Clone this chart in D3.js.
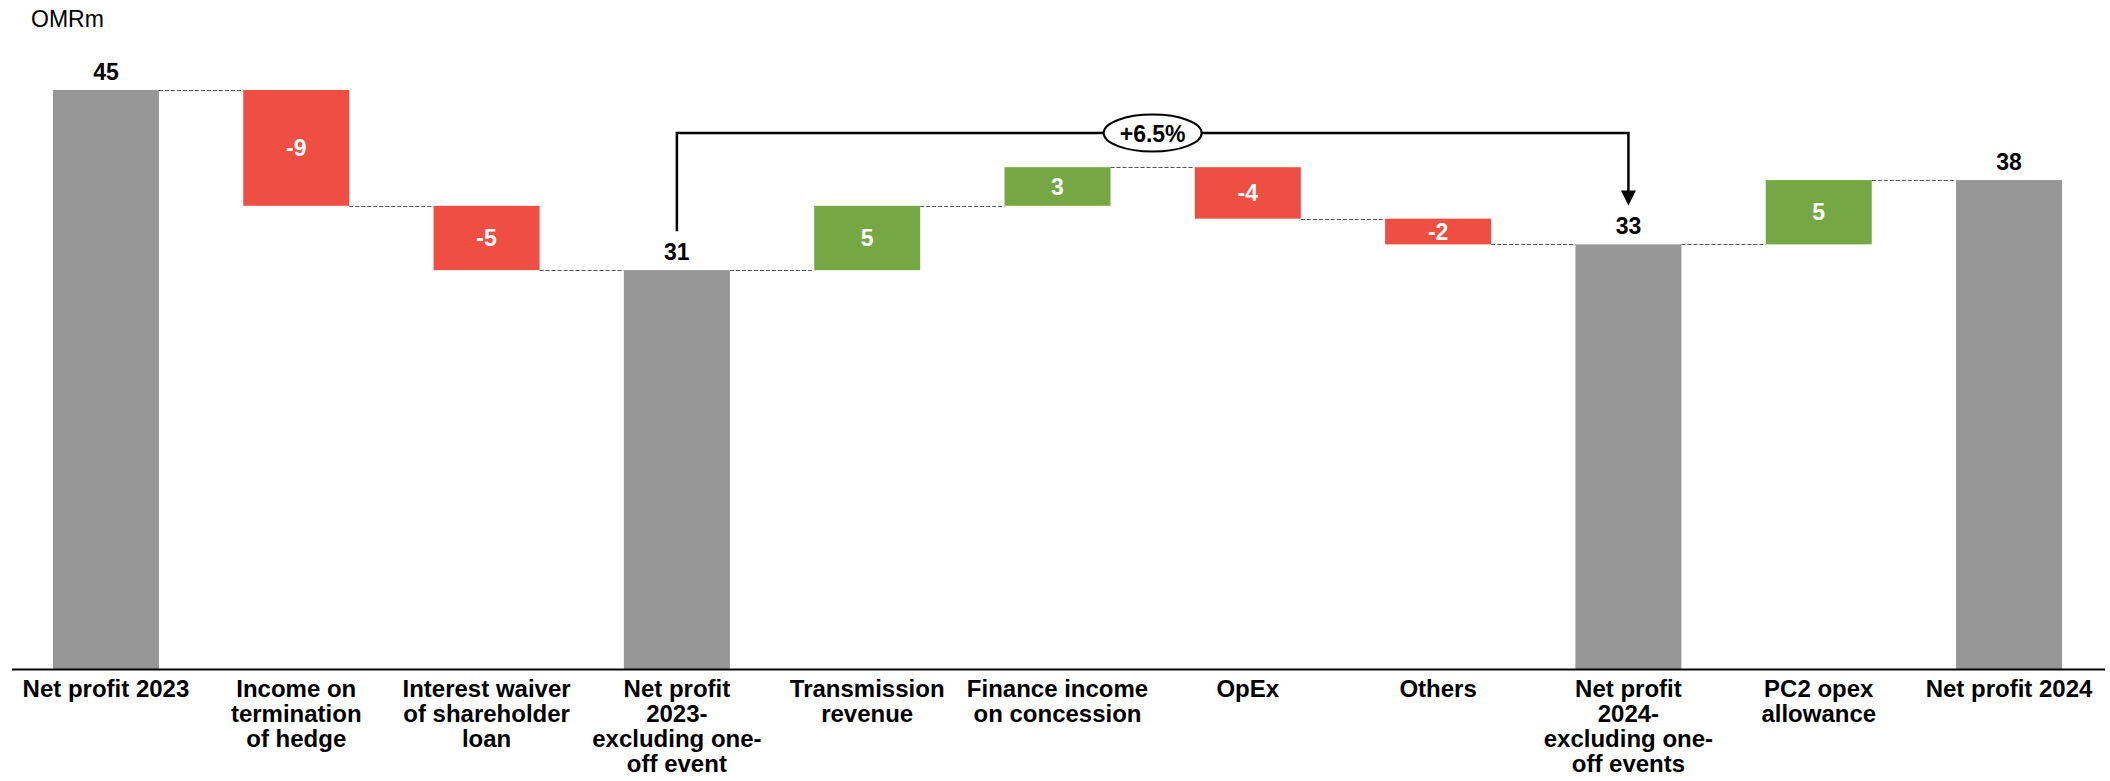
<!DOCTYPE html>
<html>
<head>
<meta charset="utf-8">
<script src="https://cdn.jsdelivr.net/npm/d3@7"></script>
<style>
  html, body { margin: 0; padding: 0; background: #fff; }
  svg { display: block; font-family: "Liberation Sans", Arial, sans-serif; }
</style>
</head>
<body>
<svg id="chart" width="2110" height="781"></svg>
<script>
// ---- data ----
const categories = [
  "Net profit 2023",
  "Income on\ntermination\nof hedge",
  "Interest waiver\nof shareholder\nloan",
  "Net profit\n2023-\nexcluding one-\noff event",
  "Transmission\nrevenue",
  "Finance income\non concession",
  "OpEx",
  "Others",
  "Net profit\n2024-\nexcluding one-\noff events",
  "PC2 opex\nallowance",
  "Net profit 2024"
];
const values = [45, -9, -5, 31, 5, 3, -4, -2, 33, 5, 38];
const isTotal = [true, false, false, true, false, false, false, false, true, false, true];
const unitLabel = "OMRm";
const growthLabel = "+6.5%";
const growthFrom = 3;   // index of "Net profit 2023-excluding..."
const growthTo = 8;     // index of "Net profit 2024-excluding..."
const bracketLevel = 41.65;

// ---- layout ----
const W = 2110, H = 781;
const baseY = 669;
const colors = { total: "#969696", neg: "#EF4E42", pos: "#75A844" };

const svg = d3.select("#chart");

const x = d3.scaleBand()
  .domain(categories.map((d, i) => i))
  .range([10.8, 2104.2])
  .paddingInner(0.443)
  .paddingOuter(0.2215);

const y = d3.scaleLinear().domain([0, 45]).range([baseY, 90]);

// compute waterfall segments
let running = 0;
const segs = values.map((v, i) => {
  let start, end;
  if (isTotal[i]) { start = 0; end = v; running = v; }
  else { start = running; end = running + v; running = end; }
  return { i, v, start, end, total: isTotal[i] };
});

// connectors
const conn = svg.append("g");
segs.slice(0, -1).forEach((s, k) => {
  const lvl = s.end;
  conn.append("line")
    .attr("x1", x(k) + x.bandwidth())
    .attr("x2", x(k + 1))
    .attr("y1", Math.round(y(lvl)) + 0.5)
    .attr("y2", Math.round(y(lvl)) + 0.5)
    .attr("stroke", "#555")
    .attr("stroke-width", 1.2)
    .attr("stroke-dasharray", "4,2");
});

// bars
svg.append("g").selectAll("rect").data(segs).join("rect")
  .attr("x", d => x(d.i))
  .attr("width", x.bandwidth())
  .attr("y", d => y(Math.max(d.start, d.end)))
  .attr("height", d => Math.abs(y(d.start) - y(d.end)))
  .attr("fill", d => d.total ? colors.total : (d.v < 0 ? colors.neg : colors.pos));

// value labels
const lab = svg.append("g").attr("font-weight", "bold").attr("font-size", 23).attr("text-anchor", "middle");
segs.forEach(d => {
  const cx = x(d.i) + x.bandwidth() / 2;
  if (d.total) {
    lab.append("text").attr("x", cx).attr("y", y(d.end) - 10).attr("fill", "#000").text(d.v);
  } else {
    const mid = (y(d.start) + y(d.end)) / 2;
    lab.append("text").attr("x", cx).attr("y", mid + 8).attr("fill", "#fff").text(d.v);
  }
});

// axis line
svg.append("line")
  .attr("x1", 12).attr("x2", 2105)
  .attr("y1", baseY + 0.5).attr("y2", baseY + 0.5)
  .attr("stroke", "#000").attr("stroke-width", 2);

// category labels
const cat = svg.append("g").attr("font-weight", "bold").attr("font-size", 24).attr("text-anchor", "middle").attr("fill", "#000");
categories.forEach((c, i) => {
  const cx = x(i) + x.bandwidth() / 2;
  const t = cat.append("text").attr("x", cx).attr("y", 697);
  c.split("\n").forEach((line, j) => {
    t.append("tspan").attr("x", cx).attr("y", 697 + j * 25).text(line);
  });
});

// unit label
svg.append("text").attr("x", 31).attr("y", 27).attr("font-size", 23).attr("fill", "#000").text(unitLabel);

// growth bracket
const xa = x(growthFrom) + x.bandwidth() / 2;
const xb = x(growthTo) + x.bandwidth() / 2;
const yb = y(bracketLevel);
const yStart = y(values[growthFrom]) - 39;
const yEnd = y(values[growthTo]) - 39;
svg.append("path")
  .attr("d", `M${xa},${yStart} L${xa},${yb} L${xb},${yb} L${xb},${yEnd - 14}`)
  .attr("fill", "none").attr("stroke", "#000").attr("stroke-width", 2.5);
svg.append("path")
  .attr("d", `M${xb - 7.5},${yEnd - 15} L${xb + 7.5},${yEnd - 15} L${xb},${yEnd} Z`)
  .attr("fill", "#000");
const cxm = (xa + xb) / 2;
svg.append("ellipse")
  .attr("cx", cxm).attr("cy", yb).attr("rx", 49).attr("ry", 18.5)
  .attr("fill", "#fff").attr("stroke", "#000").attr("stroke-width", 2);
svg.append("text").attr("x", cxm).attr("y", yb + 8.5)
  .attr("text-anchor", "middle").attr("font-weight", "bold").attr("font-size", 23)
  .attr("fill", "#000").text(growthLabel);
</script>
</body>
</html>
